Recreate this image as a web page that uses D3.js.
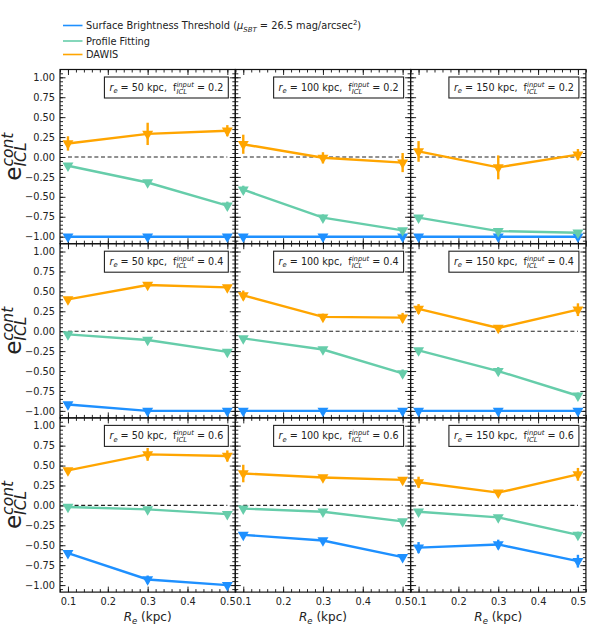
<!DOCTYPE html>
<html>
<head>
<meta charset="UTF-8">
<title>ICL contamination error</title>
<script src="https://cdnjs.cloudflare.com/ajax/libs/d3/7.9.0/d3.min.js"></script>
<style>
    body { margin: 0; background: #fff; }
    svg text { font-family: "DejaVu Sans", sans-serif; fill: #222; }
</style>
</head>
<body>
<div id="plot"></div>
<script>
// ---- data ----
const reKpc = [50, 100, 150];          // columns
const fInput = [0.2, 0.4, 0.6];        // rows
const xRe = [0.1, 0.3, 0.5];           // R_e sampled

// values indexed [row][col][point]
const sbtY = [
    [[-1.00, -1.00, -1.00], [-1.00, -1.00, -1.00], [-1.00, -1.00, -1.00]],
    [[-0.92, -1.00, -1.00], [-1.00, -1.00, -1.00], [-1.00, -1.00, -1.00]],
    [[-0.60, -0.93, -1.00], [-0.37, -0.44, -0.65], [-0.53, -0.49, -0.70]]
];
const sbtErr = [
    [[0.01, 0.01, 0.01], [0.01, 0.01, 0.01], [0.01, 0.01, 0.01]],
    [[0.02, 0.01, 0.01], [0.01, 0.01, 0.01], [0.01, 0.01, 0.01]],
    [[0.02, 0.05, 0.02], [0.02, 0.03, 0.02], [0.07, 0.06, 0.08]]
];
const profY = [
    [[-0.11, -0.32, -0.61], [-0.41, -0.76, -0.92], [-0.76, -0.93, -0.95]],
    [[-0.04, -0.11, -0.26], [-0.09, -0.23, -0.53], [-0.24, -0.50, -0.81]],
    [[-0.02, -0.05, -0.11], [-0.04, -0.08, -0.20], [-0.08, -0.15, -0.37]]
];
const profErr = [
    [[0.03, 0.02, 0.05], [0.05, 0.04, 0.02], [0.02, 0.02, 0.03]],
    [[0.02, 0.03, 0.03], [0.02, 0.02, 0.05], [0.02, 0.05, 0.04]],
    [[0.02, 0.02, 0.02], [0.02, 0.02, 0.02], [0.02, 0.02, 0.04]]
];
const dawisY = [
    [[0.17, 0.29, 0.33], [0.16, -0.01, -0.07], [0.07, -0.13, 0.03]],
    [[0.40, 0.58, 0.55], [0.45, 0.18, 0.17], [0.28, 0.04, 0.27]],
    [[0.44, 0.64, 0.62], [0.40, 0.35, 0.32], [0.29, 0.16, 0.39]]
];
const dawisErr = [
    [[0.09, 0.14, 0.07], [0.12, 0.07, 0.12], [0.13, 0.15, 0.07]],
    [[0.03, 0.03, 0.03], [0.06, 0.04, 0.06], [0.06, 0.02, 0.08]],
    [[0.03, 0.08, 0.07], [0.11, 0.03, 0.03], [0.07, 0.03, 0.08]]
];

const methods = [
    {name: "sbt", color: "#1e90ff", y: sbtY, err: sbtErr},
    {name: "prof", color: "#66cdaa", y: profY, err: profErr},
    {name: "dawis", color: "#ffa500", y: dawisY, err: dawisErr}
];

const yMajor = d3.range(-1, 1.001, 0.25);
const yMinor = d3.range(-1.05, 1.06, 0.05);
const xMajor = [0.1, 0.2, 0.3, 0.4, 0.5];
const xMinor = d3.range(0.08, 0.521, 0.02);

// ---- layout ----
const W = 591, H = 634;
const padLeft = 60, padTop = 69.5;
const pw = 175.3, ph = 174.2;

const svg = d3.select("#plot").append("svg")
    .attr("width", W).attr("height", H);

const xScale = d3.scaleLinear().domain([0.08, 0.52]).range([0, pw]);
const yScale = d3.scaleLinear().domain([-1.088, 1.098]).range([ph, 0]);

const line = d3.line().x(d => xScale(d.x)).y(d => yScale(d.y));
const tri = d3.symbol(d3.symbolTriangle, 52);

// measure helper
function textWidth(str, size, style) {
    const t = svg.append("text").attr("font-size", size).attr("font-style", style || "normal").text(str);
    const w = t.node().getComputedTextLength();
    t.remove();
    return w;
}

// ---- legend ----
const legendItems = ["sbt", "prof", "dawis"];
const legendY = [25.5, 41, 54.5];
legendItems.forEach((k, i) => {
    const m = methods.find(d => d.name === k);
    svg.append("line")
        .attr("x1", 63).attr("x2", 82.5)
        .attr("y1", legendY[i]).attr("y2", legendY[i])
        .attr("stroke", m.color).attr("stroke-width", 1.6);
});
const lt0 = svg.append("text").attr("x", 86).attr("y", legendY[0] + 3.5).attr("font-size", 9.8);
lt0.append("tspan").text("Surface Brightness Threshold (");
lt0.append("tspan").attr("font-style", "italic").text("μ");
lt0.append("tspan").attr("font-style", "italic").attr("font-size", 7).attr("dy", 2.5).text("SBT");
lt0.append("tspan").attr("dy", -2.5).text(" = 26.5 mag/arcsec");
lt0.append("tspan").attr("font-size", 7).attr("dy", -4).text("2");
lt0.append("tspan").attr("dy", 4).text(")");
svg.append("text").attr("x", 86).attr("y", legendY[1] + 3.5).attr("font-size", 9.8).text("Profile Fitting");
svg.append("text").attr("x", 86).attr("y", legendY[2] + 3.5).attr("font-size", 9.8).text("DAWIS");

// ---- panels ----
fInput.forEach((f, r) => {
    reKpc.forEach((re, c) => {
        const g = svg.append("g")
            .attr("transform", `translate(${padLeft + c * pw},${padTop + r * ph})`);

        // ticks (inward, all sides)
        const yl = d3.axisLeft(yScale).tickValues(yMajor).tickSize(-5.5).tickPadding(5)
            .tickFormat(c === 0 ? d3.format(".2f") : () => "");
        const ylm = d3.axisLeft(yScale).tickValues(yMinor).tickSize(-3).tickFormat(() => "");
        const yr = d3.axisRight(yScale).tickValues(yMajor).tickSize(-5.5).tickFormat(() => "");
        const yrm = d3.axisRight(yScale).tickValues(yMinor).tickSize(-3).tickFormat(() => "");
        const xb = d3.axisBottom(xScale).tickValues(xMajor).tickSize(-5.5).tickPadding(6)
            .tickFormat(r === 2 ? d3.format(".1f") : () => "");
        const xbm = d3.axisBottom(xScale).tickValues(xMinor).tickSize(-3).tickFormat(() => "");
        const xt = d3.axisTop(xScale).tickValues(xMajor).tickSize(-5.5).tickFormat(() => "");
        const xtm = d3.axisTop(xScale).tickValues(xMinor).tickSize(-3).tickFormat(() => "");

        [[yl, 0, 0], [ylm, 0, 0], [yr, pw, 0], [yrm, pw, 0],
         [xb, 0, ph], [xbm, 0, ph], [xt, 0, 0], [xtm, 0, 0]].forEach(([ax, tx, ty]) => {
            const a = g.append("g").attr("transform", `translate(${tx},${ty})`).call(ax);
            a.select(".domain").remove();
            a.selectAll("line").attr("stroke", "#111").attr("stroke-width", 0.9);
            a.selectAll("text").attr("font-size", 9.8).attr("fill", "#222")
                .style("font-family", "DejaVu Sans, sans-serif");
        });

        // zero line
        g.append("line")
            .attr("x1", xScale(0.1)).attr("x2", xScale(0.5))
            .attr("y1", yScale(0)).attr("y2", yScale(0))
            .attr("stroke", "#222").attr("stroke-width", 1.1)
            .attr("stroke-dasharray", "4,2.6");

        // series
        methods.forEach(m => {
            const pts = xRe.map((x, i) => ({x: x, y: m.y[r][c][i], e: m.err[r][c][i]}));
            g.append("path").datum(pts)
                .attr("d", line).attr("fill", "none")
                .attr("stroke", m.color).attr("stroke-width", 2.4);
            g.selectAll(null).data(pts).enter().append("line")
                .attr("x1", d => xScale(d.x)).attr("x2", d => xScale(d.x))
                .attr("y1", d => yScale(d.y - d.e)).attr("y2", d => yScale(d.y + d.e))
                .attr("stroke", m.color).attr("stroke-width", 2.4);
            g.selectAll(null).data(pts).enter().append("path")
                .attr("d", tri)
                .attr("transform", d => `translate(${xScale(d.x)},${yScale(d.y)}) rotate(180)`)
                .attr("fill", m.color);
        });

        // frame
        g.append("rect").attr("width", pw).attr("height", ph)
            .attr("fill", "none").attr("stroke", "#111").attr("stroke-width", 1.2);

        // annotation box
        const fs = 9.6, sfs = 6.8;
        const box = g.append("rect");
        const ann = g.append("text").attr("font-size", fs).style("white-space", "pre");
        ann.append("tspan").attr("font-style", "italic").text("r");
        ann.append("tspan").attr("font-style", "italic").attr("font-size", sfs).attr("dy", 2.2).text("e");
        ann.append("tspan").attr("dy", -2.2).text(` = ${re} kpc,  f`);
        const wInput = textWidth("input", sfs, "italic");
        const wIcl = textWidth("ICL", sfs, "italic");
        ann.append("tspan").attr("font-style", "italic").attr("font-size", sfs).attr("dy", -4).text("input");
        ann.append("tspan").attr("font-style", "italic").attr("font-size", sfs)
            .attr("dx", -wInput).attr("dy", 6.5).text("ICL");
        ann.append("tspan").attr("dx", wInput - wIcl).attr("dy", -2.5).text(` = ${f}`);
        const bw = ann.node().getBBox().width;
        const boxW = bw + 10, boxH = 21;
        const bx = pw - 7 - boxW, by = 7.5;
        ann.attr("x", bx + 5).attr("y", by + 14);
        box.attr("x", bx).attr("y", by).attr("width", boxW).attr("height", boxH)
            .attr("fill", "#fff").attr("stroke", "#222").attr("stroke-width", 1.1);
    });

    // y label per row
    const cy = padTop + r * ph + ph / 2;
    const ylab = svg.append("text")
        .attr("transform", `translate(21,${cy}) rotate(-90)`)
        .attr("text-anchor", "middle").attr("font-size", 23);
    const wCont = textWidth("cont", 15.5, "italic");
    ylab.append("tspan").text("e");
    ylab.append("tspan").attr("font-style", "italic").attr("font-size", 15.5).attr("dy", -8.5).text("cont");
    ylab.append("tspan").attr("font-style", "italic").attr("font-size", 15.5)
        .attr("dx", -wCont).attr("dy", 13.5).text("ICL");
});

// x labels per column
reKpc.forEach((re, c) => {
    const cx = padLeft + c * pw + pw / 2;
    const xl = svg.append("text").attr("x", cx).attr("y", 621)
        .attr("text-anchor", "middle").attr("font-size", 12);
    xl.append("tspan").attr("font-style", "italic").text("R");
    xl.append("tspan").attr("font-style", "italic").attr("font-size", 8.5).attr("dy", 2.5).text("e");
    xl.append("tspan").attr("dy", -2.5).text(" (kpc)");
});
</script>
</body>
</html>
